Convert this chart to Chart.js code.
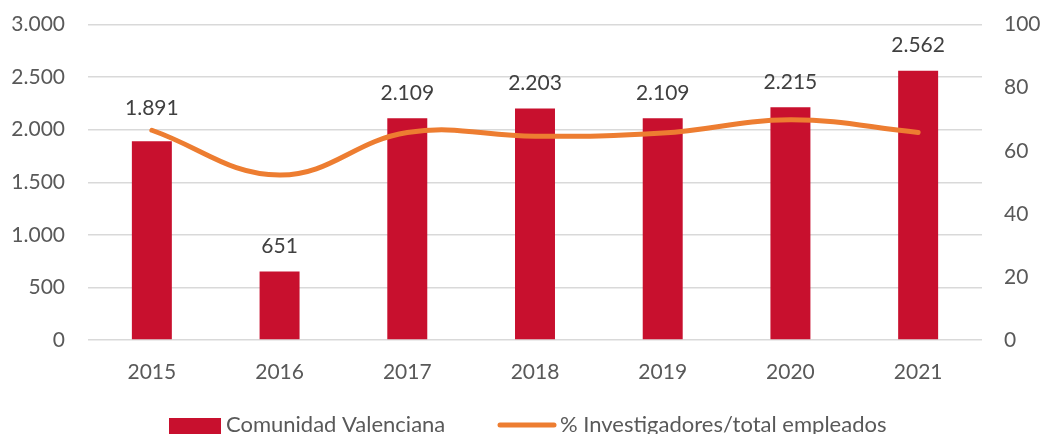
<!DOCTYPE html>
<html>
<head>
<meta charset="utf-8">
<script src="https://cdn.jsdelivr.net/npm/chart.js@4/dist/chart.umd.min.js"></script>
<style>
  html, body { margin: 0; padding: 0; background: #ffffff; }
  #wrap { width: 1043px; height: 434px; position: relative; }
</style>
</head>
<body>
<div id="wrap"><canvas id="c"></canvas></div>
<script>
const categories = ['2015', '2016', '2017', '2018', '2019', '2020', '2021'];
const researchers = [1891, 651, 2109, 2203, 2109, 2215, 2562];
const pctResearchers = [66.5, 52.3, 65.8, 64.6, 65.6, 69.8, 65.8];
const barLabel = 'Comunidad Valenciana';
const lineLabel = '% Investigadores/total empleados';
const leftTicks = { min: 0, max: 3000, step: 500 };
const rightTicks = { min: 0, max: 100, step: 20 };

const BAR_COLOR = '#C8102E';
const LINE_COLOR = '#ED7D31';
const FONT = 'Lato, "Open Sans", sans-serif';

function fmtEs(v) {
  return String(Math.round(v)).replace(/\B(?=(\d{3})+(?!\d))/g, '.');
}

const labelPlugin = {
  id: 'barLabels',
  afterDatasetsDraw(chart) {
    const ctx = chart.ctx;
    const barMeta = chart.getDatasetMeta(0);
    const lineMeta = chart.getDatasetMeta(1);
    ctx.save();
    ctx.font = '21px ' + FONT;
    ctx.fillStyle = '#404040';
    ctx.textAlign = 'center';
    ctx.textBaseline = 'middle';
    barMeta.data.forEach((bar, i) => {
      let y = bar.y - 25;
      const lp = lineMeta.data[i];
      if (lp && Math.abs(lp.y - y) < 20) y = lp.y - 22;
      ctx.fillText(fmtEs(researchers[i]), bar.x, y);
    });
    ctx.restore();
  }
};

const legendPlugin = {
  id: 'customLegend',
  afterDraw(chart) {
    const ctx = chart.ctx;
    ctx.save();
    ctx.font = '22px ' + FONT;
    ctx.textBaseline = 'middle';
    ctx.textAlign = 'left';
    const y = 425;
    ctx.fillStyle = BAR_COLOR;
    ctx.fillRect(169, 418, 52, 16);
    ctx.fillStyle = '#595959';
    ctx.fillText(chart.data.datasets[0].label, 226, y);
    ctx.strokeStyle = LINE_COLOR;
    ctx.lineWidth = 5;
    ctx.lineCap = 'round';
    ctx.beginPath();
    ctx.moveTo(500, y);
    ctx.lineTo(554, y);
    ctx.stroke();
    ctx.fillText(chart.data.datasets[1].label, 560, y);
    ctx.restore();
  }
};

new Chart(document.getElementById('c'), {
  data: {
    labels: categories,
    datasets: [
      {
        type: 'bar',
        label: barLabel,
        data: researchers,
        backgroundColor: BAR_COLOR,
        borderWidth: 0,
        yAxisID: 'y',
        order: 2,
        categoryPercentage: 1,
        barPercentage: 0.313
      },
      {
        type: 'line',
        label: lineLabel,
        data: pctResearchers,
        borderColor: LINE_COLOR,
        backgroundColor: LINE_COLOR,
        borderWidth: 5,
        borderCapStyle: 'round',
        pointRadius: 0,
        tension: 0.4,
        yAxisID: 'y1',
        order: 1
      }
    ]
  },
  options: {
    responsive: true,
    maintainAspectRatio: false,
    animation: false,
    devicePixelRatio: 1,
    layout: { padding: { top: 0, bottom: 50, left: 0, right: 0 } },
    plugins: {
      legend: { display: false },
      tooltip: { enabled: false }
    },
    scales: {
      x: {
        grid: { display: false, drawTicks: false },
        border: { display: false },
        ticks: { color: '#595959', font: { family: FONT, size: 21 }, padding: 20 },
        afterFit(s) { s.height = 44; }
      },
      y: {
        position: 'left',
        min: leftTicks.min,
        max: leftTicks.max,
        grid: { color: '#D9D9D9', lineWidth: 1.5, drawTicks: true, tickLength: 11, tickColor: 'rgba(0,0,0,0)' },
        border: { display: false },
        ticks: {
          stepSize: leftTicks.step,
          color: '#595959',
          font: { family: FONT, size: 21 },
          padding: 12,
          callback: v => fmtEs(v)
        },
        afterFit(s) { s.width = 88; }
      },
      y1: {
        position: 'right',
        min: rightTicks.min,
        max: rightTicks.max,
        grid: { display: true, drawOnChartArea: false, drawTicks: true, tickLength: 10, color: 'rgba(0,0,0,0)', tickColor: 'rgba(0,0,0,0)' },
        border: { display: false },
        ticks: {
          stepSize: rightTicks.step,
          color: '#595959',
          font: { family: FONT, size: 21 },
          padding: 12
        },
        afterFit(s) { s.width = 61; }
      }
    }
  },
  plugins: [labelPlugin, legendPlugin]
});
</script>
</body>
</html>
